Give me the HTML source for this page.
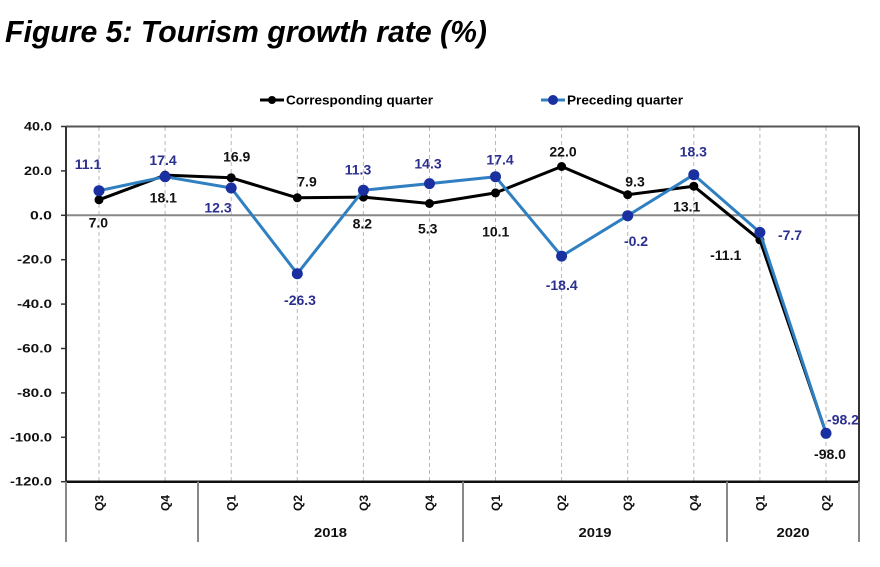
<!DOCTYPE html>
<html>
<head>
<meta charset="utf-8">
<style>
html,body{margin:0;padding:0;background:#fff;}
svg{display:block;}
text{font-family:"Liberation Sans",Arial,sans-serif;}
</style>
</head>
<body>
<svg width="880" height="567" viewBox="0 0 880 567" xmlns="http://www.w3.org/2000/svg">
<rect width="880" height="567" fill="#fff"/>
<!-- Title -->
<text x="5" y="42" font-size="31" font-weight="bold" font-style="italic" fill="#000" textLength="482" lengthAdjust="spacingAndGlyphs">Figure 5: Tourism growth rate (%)</text>

<!-- Legend -->
<line x1="260" y1="100" x2="284" y2="100" stroke="#000" stroke-width="3"/>
<circle cx="272" cy="100" r="4" fill="#000"/>
<text x="286" y="104.5" font-size="12.5" font-weight="bold" fill="#000" textLength="147" lengthAdjust="spacingAndGlyphs">Corresponding quarter</text>
<line x1="541" y1="100" x2="565" y2="100" stroke="#2f7fc1" stroke-width="3"/>
<circle cx="553" cy="100" r="5" fill="#1a2fa0"/>
<text x="567" y="104.5" font-size="12.5" font-weight="bold" fill="#000" textLength="116" lengthAdjust="spacingAndGlyphs">Preceding quarter</text>

<!-- vertical dashed gridlines -->
<g stroke="#b8b8b8" stroke-width="1" stroke-dasharray="4,3">
<line x1="99" y1="127" x2="99" y2="481"/>
<line x1="165.1" y1="127" x2="165.1" y2="481"/>
<line x1="231.2" y1="127" x2="231.2" y2="481"/>
<line x1="297.3" y1="127" x2="297.3" y2="481"/>
<line x1="363.4" y1="127" x2="363.4" y2="481"/>
<line x1="429.5" y1="127" x2="429.5" y2="481"/>
<line x1="495.5" y1="127" x2="495.5" y2="481"/>
<line x1="561.6" y1="127" x2="561.6" y2="481"/>
<line x1="627.7" y1="127" x2="627.7" y2="481"/>
<line x1="693.8" y1="127" x2="693.8" y2="481"/>
<line x1="759.9" y1="127" x2="759.9" y2="481"/>
<line x1="826" y1="127" x2="826" y2="481"/>
</g>

<!-- zero line -->
<line x1="66" y1="215.3" x2="859" y2="215.3" stroke="#888" stroke-width="2"/>

<!-- frame -->
<line x1="66" y1="126.5" x2="859" y2="126.5" stroke="#555" stroke-width="2"/>
<line x1="859" y1="126.5" x2="859" y2="481.7" stroke="#333" stroke-width="2"/>
<line x1="66" y1="126.5" x2="66" y2="481.7" stroke="#333" stroke-width="2"/>
<line x1="66" y1="481.7" x2="859" y2="481.7" stroke="#111" stroke-width="2.5"/>

<!-- y ticks -->
<g stroke="#333" stroke-width="1.5">
<line x1="61" y1="126.5" x2="66" y2="126.5"/>
<line x1="61" y1="170.9" x2="66" y2="170.9"/>
<line x1="61" y1="215.3" x2="66" y2="215.3"/>
<line x1="61" y1="259.7" x2="66" y2="259.7"/>
<line x1="61" y1="304.1" x2="66" y2="304.1"/>
<line x1="61" y1="348.5" x2="66" y2="348.5"/>
<line x1="61" y1="392.9" x2="66" y2="392.9"/>
<line x1="61" y1="437.3" x2="66" y2="437.3"/>
<line x1="61" y1="481.7" x2="66" y2="481.7"/>
</g>
<g font-size="11.5" font-weight="bold" fill="#111" text-anchor="end">
<text x="52" y="130.5" textLength="28" lengthAdjust="spacingAndGlyphs">40.0</text>
<text x="52" y="174.9" textLength="28" lengthAdjust="spacingAndGlyphs">20.0</text>
<text x="52" y="219.3" textLength="22" lengthAdjust="spacingAndGlyphs">0.0</text>
<text x="52" y="263.7" textLength="35" lengthAdjust="spacingAndGlyphs">-20.0</text>
<text x="52" y="308.1" textLength="35" lengthAdjust="spacingAndGlyphs">-40.0</text>
<text x="52" y="352.5" textLength="35" lengthAdjust="spacingAndGlyphs">-60.0</text>
<text x="52" y="396.9" textLength="35" lengthAdjust="spacingAndGlyphs">-80.0</text>
<text x="52" y="441.3" textLength="42" lengthAdjust="spacingAndGlyphs">-100.0</text>
<text x="52" y="485.7" textLength="42" lengthAdjust="spacingAndGlyphs">-120.0</text>
</g>

<!-- category separators -->
<g stroke="#888" stroke-width="2">
<line x1="66" y1="481.7" x2="66" y2="542"/>
<line x1="198" y1="481.7" x2="198" y2="542"/>
<line x1="463" y1="481.7" x2="463" y2="542"/>
<line x1="727" y1="481.7" x2="727" y2="542"/>
<line x1="859" y1="481.7" x2="859" y2="542"/>
</g>

<!-- quarter labels -->
<g font-size="12" font-weight="bold" fill="#111" text-anchor="middle">
<text transform="translate(103.5,503) rotate(-90)">Q3</text>
<text transform="translate(169.6,503) rotate(-90)">Q4</text>
<text transform="translate(235.7,503) rotate(-90)">Q1</text>
<text transform="translate(301.8,503) rotate(-90)">Q2</text>
<text transform="translate(367.9,503) rotate(-90)">Q3</text>
<text transform="translate(434,503) rotate(-90)">Q4</text>
<text transform="translate(500,503) rotate(-90)">Q1</text>
<text transform="translate(566.1,503) rotate(-90)">Q2</text>
<text transform="translate(632.2,503) rotate(-90)">Q3</text>
<text transform="translate(698.3,503) rotate(-90)">Q4</text>
<text transform="translate(764.4,503) rotate(-90)">Q1</text>
<text transform="translate(830.5,503) rotate(-90)">Q2</text>
</g>
<g font-size="13" font-weight="bold" fill="#111" text-anchor="middle">
<text x="330.5" y="537" textLength="33" lengthAdjust="spacingAndGlyphs">2018</text>
<text x="595" y="537" textLength="33" lengthAdjust="spacingAndGlyphs">2019</text>
<text x="793" y="537" textLength="33" lengthAdjust="spacingAndGlyphs">2020</text>
</g>

<!-- Corresponding quarter series -->
<polyline fill="none" stroke="#000" stroke-width="3" stroke-linejoin="round"
points="99,199.8 165.1,175.1 231.2,177.8 297.3,197.8 363.4,197.1 429.5,203.5 495.5,192.9 561.6,166.5 627.7,194.7 693.8,186.2 759.9,239.9 826,432.9"/>
<g fill="#000">
<circle cx="99" cy="199.8" r="4.5"/>
<circle cx="165.1" cy="175.1" r="4.5"/>
<circle cx="231.2" cy="177.8" r="4.5"/>
<circle cx="297.3" cy="197.8" r="4.5"/>
<circle cx="363.4" cy="197.1" r="4.5"/>
<circle cx="429.5" cy="203.5" r="4.5"/>
<circle cx="495.5" cy="192.9" r="4.5"/>
<circle cx="561.6" cy="166.5" r="4.5"/>
<circle cx="627.7" cy="194.7" r="4.5"/>
<circle cx="693.8" cy="186.2" r="4.5"/>
<circle cx="759.9" cy="239.9" r="4.5"/>
<circle cx="826" cy="432.9" r="4.5"/>
</g>

<!-- Preceding quarter series -->
<polyline fill="none" stroke="#2f7fc1" stroke-width="3" stroke-linejoin="round"
points="99,190.7 165.1,176.7 231.2,188 297.3,273.7 363.4,190.2 429.5,183.6 495.5,176.7 561.6,256.1 627.7,215.7 693.8,174.7 759.9,232.4 826,433.3"/>
<g fill="#1a2fa0">
<circle cx="99" cy="190.7" r="5.5"/>
<circle cx="165.1" cy="176.7" r="5.5"/>
<circle cx="231.2" cy="188" r="5.5"/>
<circle cx="297.3" cy="273.7" r="5.5"/>
<circle cx="363.4" cy="190.2" r="5.5"/>
<circle cx="429.5" cy="183.6" r="5.5"/>
<circle cx="495.5" cy="176.7" r="5.5"/>
<circle cx="561.6" cy="256.1" r="5.5"/>
<circle cx="627.7" cy="215.7" r="5.5"/>
<circle cx="693.8" cy="174.7" r="5.5"/>
<circle cx="759.9" cy="232.4" r="5.5"/>
<circle cx="826" cy="433.3" r="5.5"/>
</g>

<!-- black data labels -->
<g font-size="14" font-weight="bold" fill="#111" text-anchor="middle">
<text x="98.3" y="227.7">7.0</text>
<text x="163.3" y="202.7">18.1</text>
<text x="236.7" y="161.7">16.9</text>
<text x="307" y="186.7">7.9</text>
<text x="362.3" y="228.3">8.2</text>
<text x="427.7" y="233.3">5.3</text>
<text x="495.7" y="236.7">10.1</text>
<text x="563" y="156.7">22.0</text>
<text x="635" y="186.7">9.3</text>
<text x="686.7" y="211.7">13.1</text>
<text x="725.7" y="260">-11.1</text>
<text x="830" y="459">-98.0</text>
</g>
<!-- blue data labels -->
<g font-size="14" font-weight="bold" fill="#2b2f8f" text-anchor="middle">
<text x="88" y="169">11.1</text>
<text x="163" y="165">17.4</text>
<text x="218" y="212.7">12.3</text>
<text x="300" y="305">-26.3</text>
<text x="358" y="174.3">11.3</text>
<text x="428" y="168.3">14.3</text>
<text x="500" y="164.3">17.4</text>
<text x="561.7" y="290">-18.4</text>
<text x="636" y="246">-0.2</text>
<text x="693.3" y="156.7">18.3</text>
<text x="790" y="240">-7.7</text>
<text x="843" y="424.3">-98.2</text>
</g>
</svg>
</body>
</html>
